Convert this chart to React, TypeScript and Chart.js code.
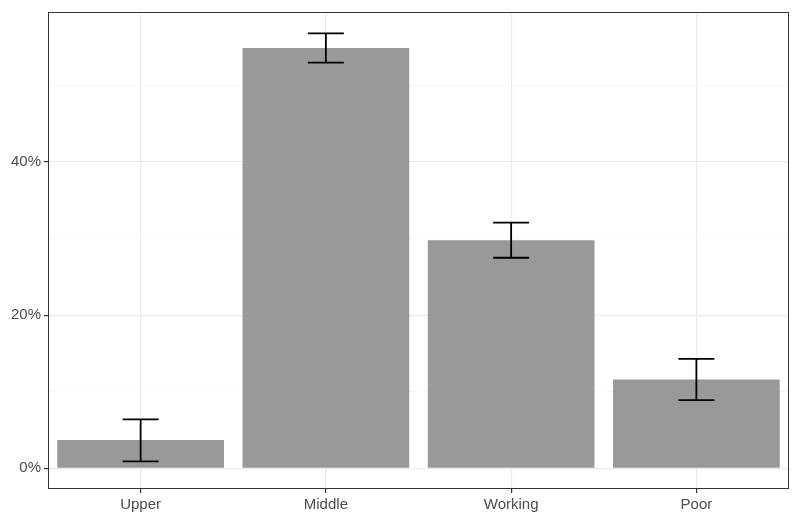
import React, { useEffect, useRef } from "react";
import { Chart, registerables } from "chart.js";
Chart.register(...registerables);

const categories = ["Upper", "Middle", "Working", "Poor"];
const values = [3.7, 54.9, 29.8, 11.6];
const lower = [0.9, 53.0, 27.5, 8.9];
const upper = [6.4, 56.8, 32.1, 14.3];

const extras = {
  id: "extras",
  afterDatasetsDraw(chart: any) {
    const { ctx, chartArea, scales } = chart;
    const meta = chart.getDatasetMeta(0);
    ctx.save();
    ctx.strokeStyle = "#000";
    ctx.lineWidth = 1.8;
    meta.data.forEach((bar: any, i: number) => {
      const x = bar.x;
      const y1 = scales.y.getPixelForValue(lower[i]);
      const y2 = scales.y.getPixelForValue(upper[i]);
      const hw = 18;
      ctx.beginPath();
      ctx.moveTo(x, y1); ctx.lineTo(x, y2);
      ctx.moveTo(x - hw, y1); ctx.lineTo(x + hw, y1);
      ctx.moveTo(x - hw, y2); ctx.lineTo(x + hw, y2);
      ctx.stroke();
    });
    ctx.strokeStyle = "#333333";
    ctx.lineWidth = 1;
    ctx.strokeRect(chartArea.left + 0.5, chartArea.top + 0.5, chartArea.width - 1, chartArea.height - 1);
    ctx.restore();
  },
};

export default function App() {
  const ref = useRef<HTMLCanvasElement>(null);
  useEffect(() => {
    const chart = new Chart(ref.current!, {
      type: "bar",
      data: {
        labels: categories,
        datasets: [{ data: values, backgroundColor: "#999999", barPercentage: 0.9, categoryPercentage: 1 }],
      },
      options: {
        animation: false,
        responsive: false,
        layout: { padding: { top: 1, right: 9, left: 0, bottom: 0 } },
        plugins: { legend: { display: false }, tooltip: { enabled: false } },
        scales: {
          x: {
            grid: { offset: false, color: "#ebebeb", lineWidth: 1.2, tickLength: 4, tickColor: "#333333", drawOnChartArea: true },
            border: { display: false },
            ticks: { color: "#4d4d4d", font: { family: "Liberation Sans", size: 15 }, padding: 3 },
            afterFit: (s: any) => { s.height = 29; },
          },
          y: {
            min: -2.7,
            max: 59.6,
            grid: {
              color: (c: any) => (c.tick && c.tick.value % 20 === 0 ? "#ebebeb" : "#f3f3f3"),
              lineWidth: (c: any) => (c.tick && c.tick.value % 20 === 0 ? 1.2 : 0.7),
              tickLength: 4,
              tickColor: (c: any) => (c.tick && c.tick.value % 20 === 0 ? "#333333" : "rgba(0,0,0,0)"),
            },
            border: { display: false },
            afterBuildTicks: (s: any) => { s.ticks = [0, 10, 20, 30, 40, 50].map((v) => ({ value: v })); },
            ticks: {
              color: "#4d4d4d",
              font: { family: "Liberation Sans", size: 15 },
              padding: 3,
              callback: (v: any) => (v % 20 === 0 ? v + "%" : ""),
            },
            afterFit: (s: any) => { s.width = 48; },
          },
        },
      },
      plugins: [extras],
    });
    return () => chart.destroy();
  }, []);
  return (
    <div style={{ position: "fixed", left: 0, top: 0, width: 798, height: 518, background: "#fff" }}>
      <canvas ref={ref} width={798} height={518} />
    </div>
  );
}
